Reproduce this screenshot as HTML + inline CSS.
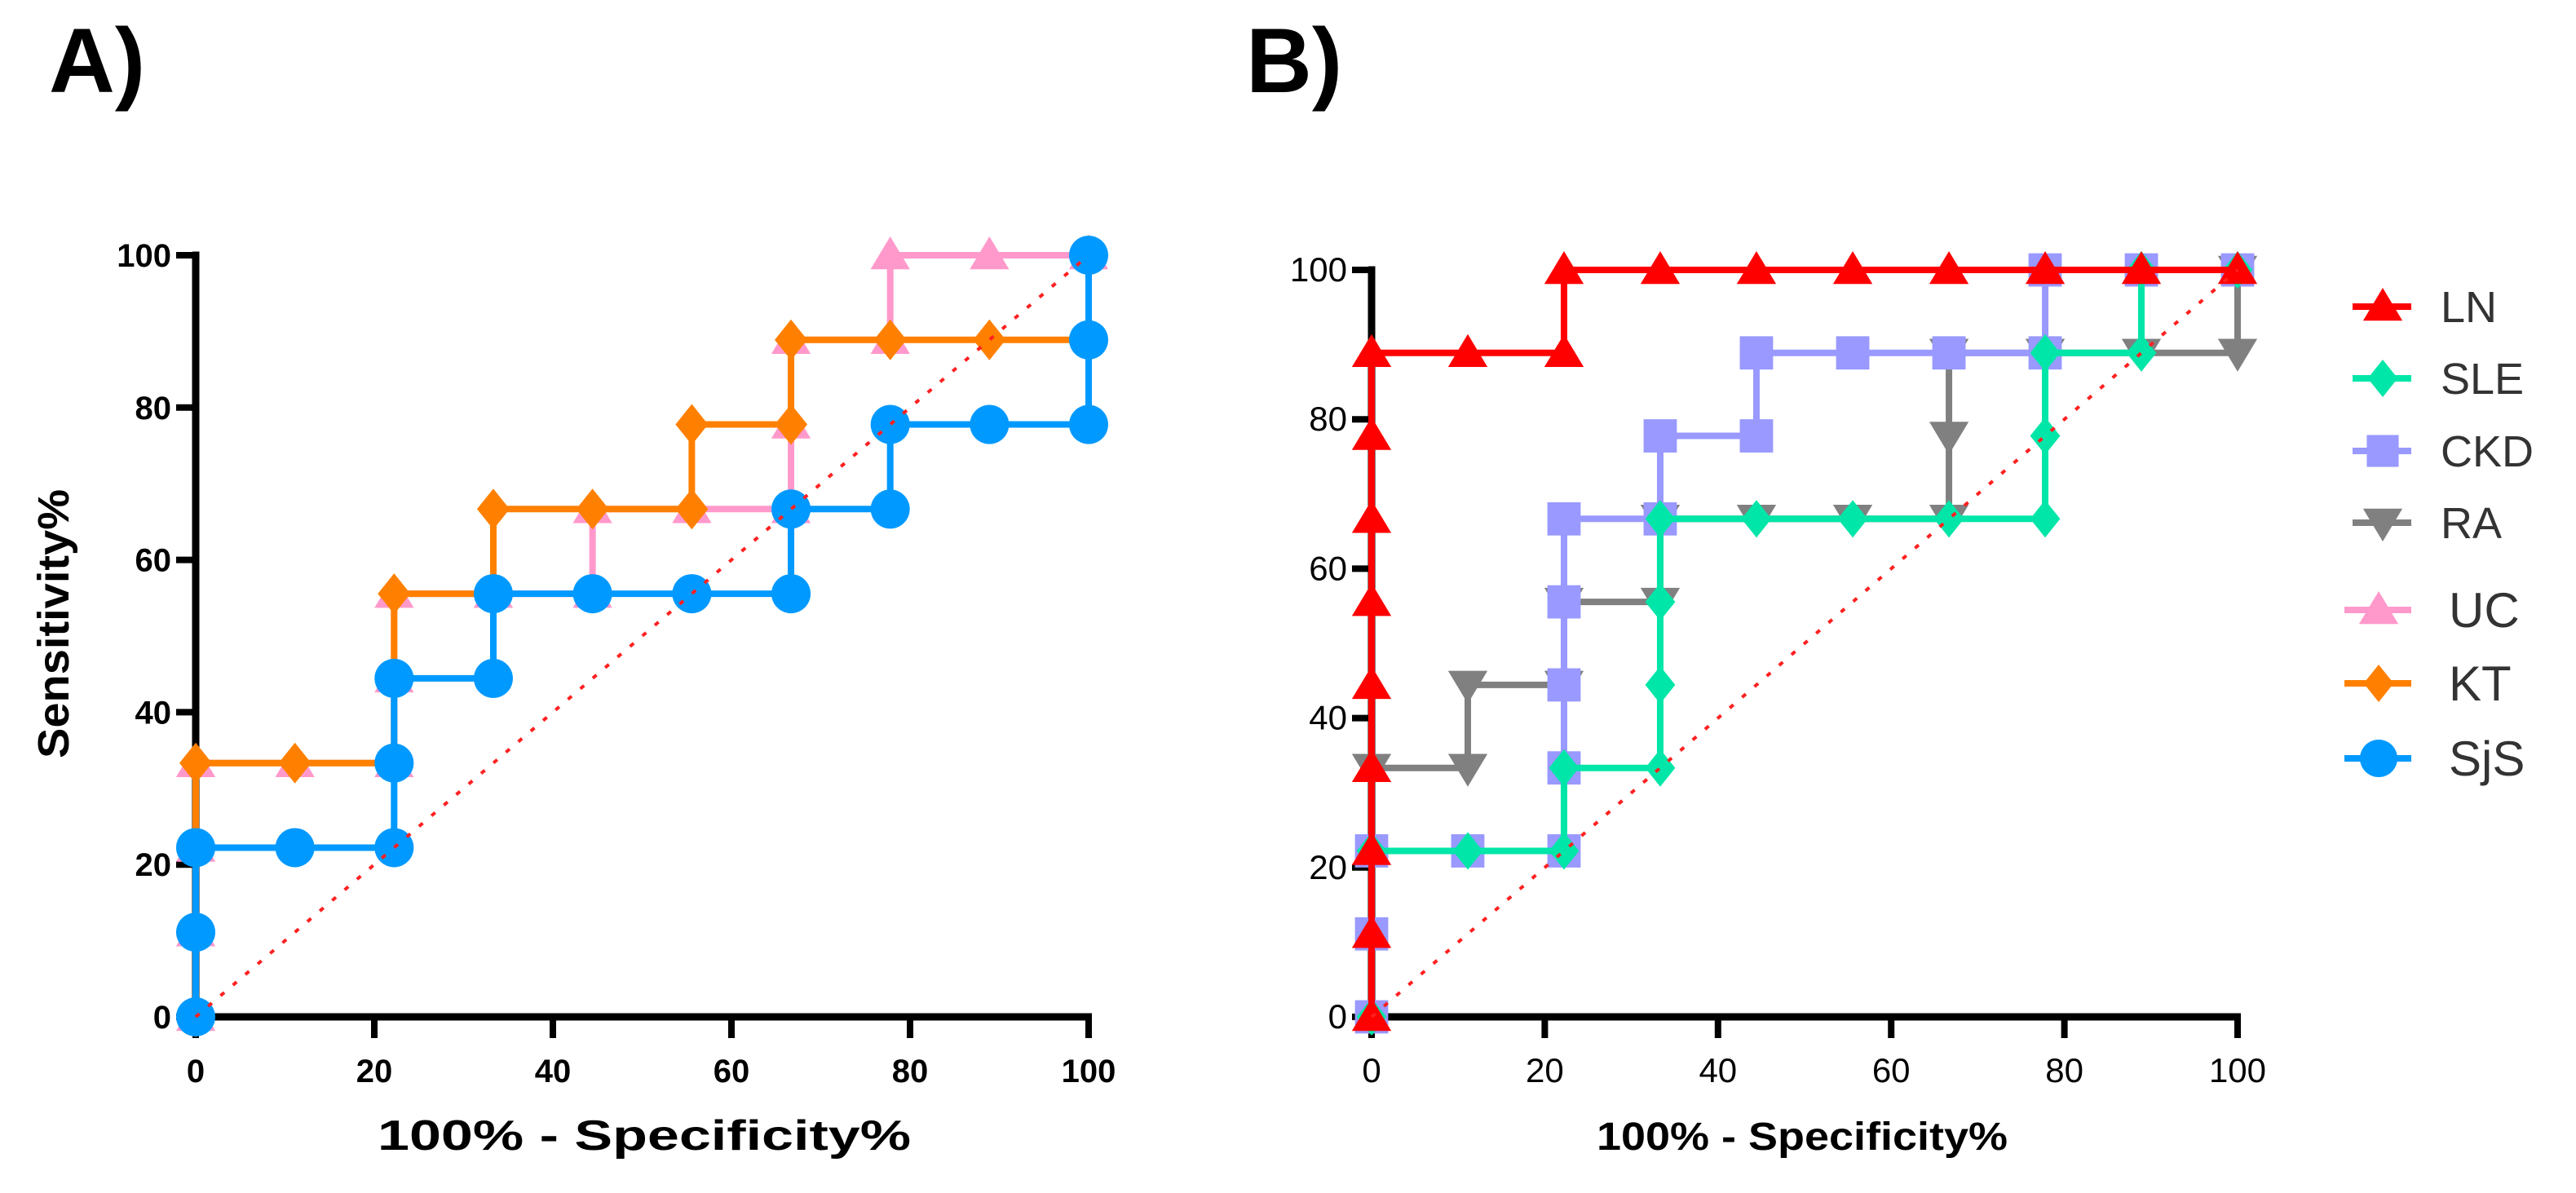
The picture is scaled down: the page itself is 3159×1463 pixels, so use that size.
<!DOCTYPE html>
<html><head><meta charset="utf-8"><style>
html,body{margin:0;padding:0;background:#fff;}
svg{display:block;}
text{font-family:"Liberation Sans",Arial,sans-serif;}
</style></head><body>
<svg id="chart" width="3159" height="1463" viewBox="0 0 3159 1463" xmlns="http://www.w3.org/2000/svg">
<text x="60" y="113" font-size="112" font-weight="bold">A)</text>
<text x="1528" y="113" font-size="112" font-weight="bold">B)</text>
<g id="pa"></g>
<g id="pb"></g>
<g id="legend"></g>
</svg>
<script>
// Tick labels
const ticks = [0, 20, 40, 60, 80, 100];
// Panel A categories & series (x = 100%-Specificity, y = Sensitivity)
const aNames = ["UC", "KT", "SjS"];
const ucX = [0,0,0,0,11.11,22.22,22.22,22.22,33.33,44.44,44.44,55.56,66.67,66.67,66.67,77.78,77.78,88.89,100];
const ucY = [0,11.11,22.22,33.33,33.33,33.33,44.44,55.56,55.56,55.56,66.67,66.67,66.67,77.78,88.89,88.89,100,100,100];
const ktX = [0,0,0,0,11.11,22.22,22.22,33.33,33.33,44.44,55.56,55.56,66.67,66.67,77.78,88.89,100,100];
const ktY = [0,11.11,22.22,33.33,33.33,33.33,55.56,55.56,66.67,66.67,66.67,77.78,77.78,88.89,88.89,88.89,88.89,100];
const sjsX = [0,0,0,11.11,22.22,22.22,22.22,33.33,33.33,44.44,55.56,66.67,66.67,77.78,77.78,88.89,100,100,100];
const sjsY = [0,11.11,22.22,22.22,22.22,33.33,44.44,44.44,55.56,55.56,55.56,55.56,66.67,66.67,77.78,77.78,77.78,88.89,100];
// Panel B series
const bNames = ["LN", "SLE", "CKD", "RA"];
const lnX = [0,0,0,0,0,0,0,0,0,11.11,22.22,22.22,33.33,44.44,55.56,66.67,77.78,88.89,100];
const lnY = [0,11.11,22.22,33.33,44.44,55.56,66.67,77.78,88.89,88.89,88.89,100,100,100,100,100,100,100,100];
const sleX = [0,0,11.11,22.22,22.22,33.33,33.33,33.33,33.33,44.44,55.56,66.67,77.78,77.78,77.78,88.89,88.89,100];
const sleY = [0,22.22,22.22,22.22,33.33,33.33,44.44,55.56,66.67,66.67,66.67,66.67,66.67,77.78,88.89,88.89,100,100];
const ckdX = [0,0,0,11.11,22.22,22.22,22.22,22.22,22.22,33.33,33.33,44.44,44.44,55.56,66.67,77.78,77.78,88.89,100];
const ckdY = [0,11.11,22.22,22.22,22.22,33.33,44.44,55.56,66.67,66.67,77.78,77.78,88.89,88.89,88.89,88.89,100,100,100];
const raX = [0,11.11,11.11,22.22,22.22,33.33,33.33,44.44,55.56,66.67,66.67,66.67,77.78,88.89,100,100];
const raY = [33.33,33.33,44.44,44.44,55.56,55.56,66.67,66.67,66.67,66.67,77.78,88.89,88.89,88.89,88.89,100];

const NS = "http://www.w3.org/2000/svg";
function mk(tag, attrs, parent){const e=document.createElementNS(NS,tag);for(const k in attrs)e.setAttribute(k,attrs[k]);parent.appendChild(e);return e;}

function marker(g, shape, cx, cy, color, s){
  let e;
  if(shape==="tri") e=mk("polygon",{points:`${cx},${cy-s} ${cx-s*1.05},${cy+s*0.75} ${cx+s*1.05},${cy+s*0.75}`,fill:color},g);
  else if(shape==="itri") e=mk("polygon",{points:`${cx},${cy+s} ${cx-s*1.05},${cy-s*0.75} ${cx+s*1.05},${cy-s*0.75}`,fill:color},g);
  else if(shape==="dia") e=mk("polygon",{points:`${cx},${cy-s} ${cx+s*0.8},${cy} ${cx},${cy+s} ${cx-s*0.8},${cy}`,fill:color},g);
  else if(shape==="sq") e=mk("rect",{x:cx-s*0.85,y:cy-s*0.85,width:s*1.7,height:s*1.7,fill:color},g);
  else e=mk("circle",{cx:cx,cy:cy,r:s,fill:color},g);
  return e;
}

function panel(g, X0, X1, Y0, Y1, series, bold, tickFs, titleFs, titleX, titleLen){
  const sx=v=>X0+(X1-X0)*v/100, sy=v=>Y0-(Y0-Y1)*v/100;
  const ax=mk("path",{d:`M${X0-4},${Y1} H${X0} V${Y0} H${X1+4}`,fill:"none",stroke:"#000","stroke-width":9},g);
  
  
  ticks.forEach(t=>{
    const ty=mk("line",{x1:X0-24,x2:X0,y1:sy(t),y2:sy(t),stroke:"#000","stroke-width":8},g);
    
    
    const tx=mk("line",{x1:sx(t),x2:sx(t),y1:Y0,y2:Y0+26,stroke:"#000","stroke-width":8},g);
    
    
    const ly=mk("text",{x:X0-30,y:sy(t)+14,"font-size":tickFs,"text-anchor":"end","font-weight":bold?"bold":"normal"},g);
    ly.textContent=t;
    
    
    const lx=mk("text",{x:sx(t),y:Y0+80,"font-size":tickFs,"text-anchor":"middle","font-weight":bold?"bold":"normal"},g);
    lx.textContent=t;
    
    
  });
  const xt=mk("text",{x:titleX-titleLen/2,y:1410,"font-size":titleFs,"font-weight":"bold",textLength:titleLen,lengthAdjust:"spacingAndGlyphs"},g);
  xt.textContent="100% - Specificity%";
  
  
  series.forEach(s=>{
    const sg=mk("g",{},g);
    
    
    const pts=s.x.map((v,i)=>`${sx(v)},${sy(s.y[i])}`).join(" ");
    const pl=mk("polyline",{points:pts,fill:"none",stroke:s.color,"stroke-width":8,"stroke-linejoin":"miter"},sg);
    
    
    s.x.forEach((v,i)=>{
      const m=marker(sg,s.shape,sx(v),sy(s.y[i]),s.color,s.size);
      
      
    });
  });
  const dg=mk("line",{x1:sx(0),y1:sy(0),x2:sx(100),y2:sy(100),stroke:"#ff2020","stroke-width":4,"stroke-dasharray":"6 14"},g);
  
  
}

const C={UC:"#ff99cc",KT:"#ff8000",SjS:"#0099ff",LN:"#ff0000",SLE:"#00e6a8",CKD:"#9999ff",RA:"#808080"};
const pa=document.getElementById("pa"), pb=document.getElementById("pb");
panel(pa,240,1335,1247,313,[
 {name:aNames[0],x:ucX,y:ucY,color:C.UC,shape:"tri",size:23},
 {name:aNames[1],x:ktX,y:ktY,color:C.KT,shape:"dia",size:25},
 {name:aNames[2],x:sjsX,y:sjsY,color:C.SjS,shape:"circ",size:24}
],true,40,52,790,654);
panel(pb,1682,2744,1247,331,[
 {name:bNames[3],x:raX,y:raY,color:C.RA,shape:"itri",size:23},
 {name:bNames[2],x:ckdX,y:ckdY,color:C.CKD,shape:"sq",size:24},
 {name:bNames[1],x:sleX,y:sleY,color:C.SLE,shape:"dia",size:23},
 {name:bNames[0],x:lnX,y:lnY,color:C.LN,shape:"tri",size:23}
],false,42,48,2210,504);
const yt=mk("text",{transform:"translate(84,930) rotate(-90)","font-size":54,"font-weight":"bold",textLength:330,lengthAdjust:"spacingAndGlyphs"},pa);
yt.textContent="Sensitivity%";



const lg=document.getElementById("legend");
const legNames=["LN","SLE","CKD","RA","UC","KT","SjS"];
const legShapes=["tri","dia","sq","itri","tri","dia","circ"];
const legY=[376,464,553,641,748,838,930];
legNames.forEach((n,i)=>{
  const big=i>=4;
  const x0=big?2875:2885, cx=big?2917:2922;
  const e=mk("g",{},lg);
  
  
  mk("line",{x1:x0,x2:2957,y1:legY[i],y2:legY[i],stroke:C[n],"stroke-width":8},e);
  marker(e,legShapes[i],cx,legY[i],C[n],23);
  const t=mk("text",{x:big?3003:2993,y:legY[i]+(big?21:19),"font-size":big?60:54,fill:"#333"},e);
  t.textContent=n;
});
</script>
</body></html>
